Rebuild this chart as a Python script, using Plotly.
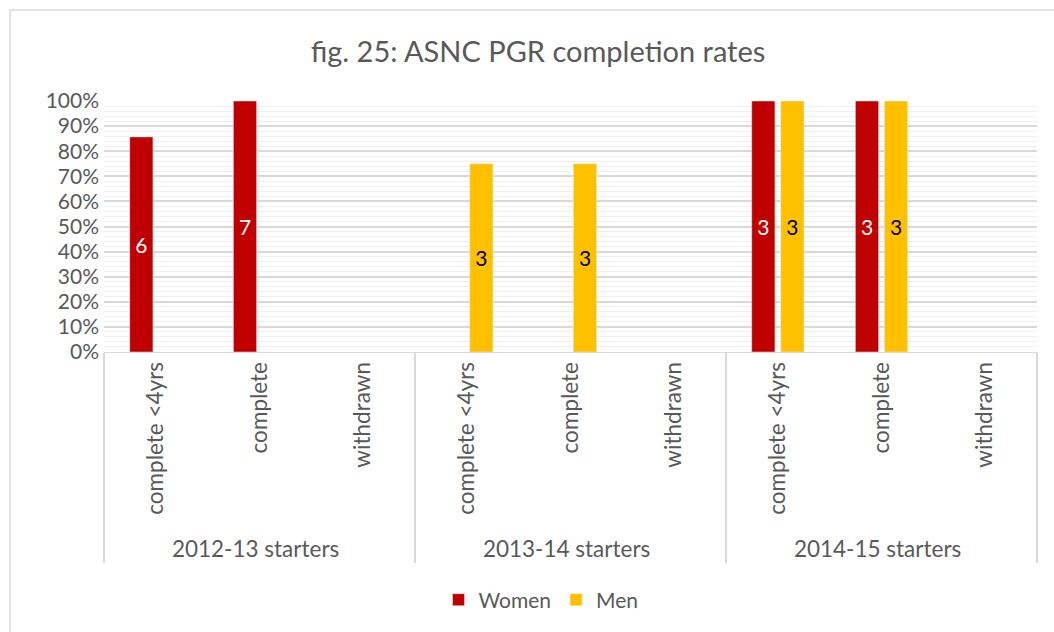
import plotly.graph_objects as go

groups = ["2012-13 starters"] * 3 + ["2013-14 starters"] * 3 + ["2014-15 starters"] * 3
stages = ["complete <4yrs", "complete", "withdrawn"] * 3

women_rate = [0.857, 1.0, None, None, None, None, 1.0, 1.0, None]
women_count = [6, 7, None, None, None, None, 3, 3, None]
men_rate = [None, None, None, 0.75, 0.75, None, 1.0, 1.0, None]
men_count = [None, None, None, 3, 3, None, 3, 3, None]

FONT = "Lato"
GRAY = "#595959"
FS = 21

def lbl(v):
    return ["" if c is None else str(c) for c in v]

fig = go.Figure()
fig.add_trace(go.Bar(
    name="Women", x=[groups, stages], y=women_rate, text=lbl(women_count),
    textposition="inside", insidetextanchor="middle", textangle=0,
    textfont=dict(color="white", size=FS, family=FONT),
    marker=dict(color="#C00000"),
))
fig.add_trace(go.Bar(
    name="Men", x=[groups, stages], y=men_rate, text=lbl(men_count),
    textposition="inside", insidetextanchor="middle", textangle=0,
    textfont=dict(color="black", size=FS, family=FONT),
    marker=dict(color="#FFC000"),
))

L, R, T, B = 104, 1037, 101, 352
W, H = 1054, 632
pw, ph = R - L, B - T

fig.update_layout(
    width=W, height=H,
    margin=dict(l=L, r=W - R, t=T, b=H - B),
    paper_bgcolor="white", plot_bgcolor="white",
    barmode="group", bargap=0.44, bargroupgap=0.2,
    font=dict(family=FONT, color=GRAY, size=FS),
    title=dict(text="fig. 25: ASNC PGR completion rates", x=538 / W, xanchor="center",
               y=1 - 52 / H, yanchor="middle", font=dict(size=29, color=GRAY, family=FONT)),
    legend=dict(orientation="h", x=(541 - L) / pw, xanchor="center", y=(B - 600) / ph,
                yanchor="middle", font=dict(size=FS, color=GRAY), itemwidth=30,
                traceorder="normal"),
    showlegend=True,
)
fig.update_yaxes(
    range=[0, 1], tickformat=".0%", dtick=0.1, showgrid=True, gridcolor="#d9d9d9",
    gridwidth=1.5, zeroline=False, showline=False, ticks="",
    tickfont=dict(size=FS, color=GRAY), ticklabelstandoff=4,
    minor=dict(dtick=0.02, showgrid=True, gridcolor="#efefef", gridwidth=1),
)
fig.update_xaxes(
    type="multicategory", tickangle=-90, showline=True, linecolor="#d9d9d9",
    showdividers=True, dividercolor="#d9d9d9", dividerwidth=2,
    tickfont=dict(size=22.5, color=GRAY), ticks="",
)
# outer chart border
fig.add_shape(type="rect", xref="paper", yref="paper",
              x0=(10 - L) / pw, x1=(1100 - L) / pw, y0=(B - 700) / ph, y1=(B - 10) / ph,
              line=dict(color="#d9d9d9", width=1.5), fillcolor="rgba(0,0,0,0)", layer="below")

fig.write_html("out.html", config={"displayModeBar": False},
               post_script="document.body.style.margin='0';document.body.style.overflow='hidden';")
